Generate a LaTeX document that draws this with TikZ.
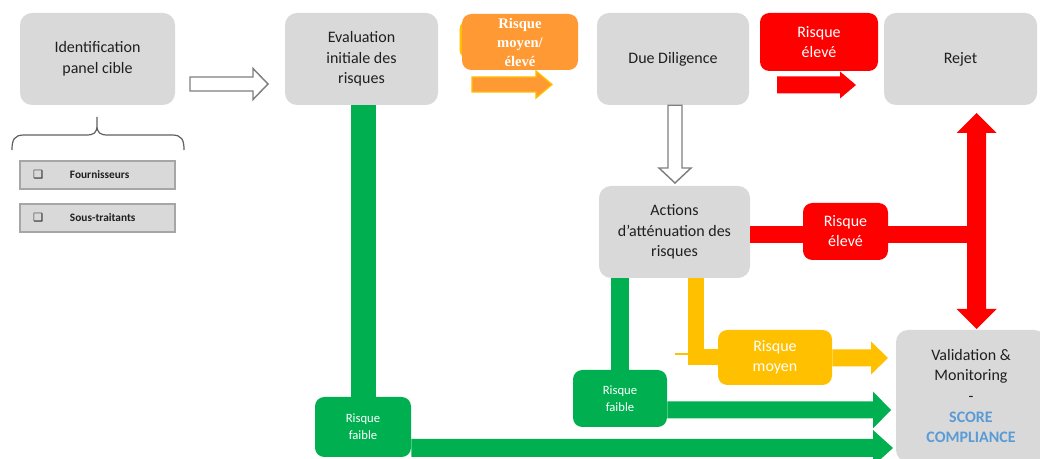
\documentclass[tikz,border=0pt]{standalone}
\usepackage{fontspec}
\setmainfont{Carlito}
\newfontfamily\timesf{Liberation Serif}
\newfontfamily\dejavu{DejaVu Sans}
\usetikzlibrary{calc}
\definecolor{boxgray}{HTML}{D9D9D9}
\definecolor{boxedge}{HTML}{A6A6A6}
\definecolor{gr}{HTML}{00B050}
\definecolor{yl}{HTML}{FFC000}
\definecolor{rd}{HTML}{FF0000}
\definecolor{org}{HTML}{FF9933}
\definecolor{bl}{HTML}{5B9BD5}
\definecolor{txt}{HTML}{1F1F1F}
\definecolor{outl}{HTML}{7F7F7F}
\definecolor{brc}{HTML}{606060}
% horizontal fat arrow: style, start, tip, body half width, head half width, head length (px)
\newcommand\fatR[6]{%
  \coordinate (fas) at (#2 |- #3);
  \coordinate (fat) at (#3);
  \filldraw[#1] ($(fas)+(0,-#4)$) -- ($(fat)+(-#6,-#4)$) -- ($(fat)+(-#6,-#5)$) -- (fat)
    -- ($(fat)+(-#6,#5)$) -- ($(fat)+(-#6,#4)$) -- ($(fas)+(0,#4)$) -- cycle;}
\newcommand\cbox{{\dejavu\bfseries\fontsize{8.5}{9}\selectfont ❑}}
\tikzset{
  gbox/.style={fill=boxgray, rounded corners=9pt, minimum width=114.75pt, minimum height=69pt,
    align=center, font=\fontsize{12}{15.5}\selectfont, text=txt, inner sep=0pt},
  lab/.style={rounded corners=7pt, align=center, text=white, inner sep=0pt,
    font=\fontsize{12}{15}\selectfont},
  sbox/.style={fill=boxgray, draw=boxedge, line width=1.1pt, minimum height=21pt,
    inner xsep=9.75pt, inner ysep=0pt, text width=96.75pt, align=left,
    font=\fontsize{8.5}{10}\selectfont\bfseries, text=txt},
  harr/.style={fill=white, draw=outl, line width=1.1pt},
  garr/.style={fill=gr, draw=none},
  yarr/.style={fill=yl, draw=none},
  rarr/.style={fill=rd, draw=none},
  oarr/.style={fill=org, draw=yl, line width=1pt},
  gline/.style={draw=gr},
  yline/.style={draw=yl, line width=12pt, line join=miter},
  rline/.style={draw=rd, line width=12.75pt},
}
\begin{document}
\begin{tikzpicture}[x=0.75pt,y=-0.75pt]
\useasboundingbox (0,0) rectangle (1040,459);
\fill[white] (0,0) rectangle (1040,459);

% main grey boxes
\node[gbox, minimum width=116.25pt] (id) at (97.5,59) {Identification\\panel cible};
\node[gbox] (ev) at (361.5,59) {Evaluation\\initiale des\\risques};
\node[gbox, minimum width=114pt] (dd) at (673,59) {Due Diligence};
\node[gbox] (rj) at (960.5,59) {Rejet};
\node[gbox, minimum width=113.25pt] (act) at (674.5,232) {Actions\\d’atténuation des\\risques};
\node[gbox, minimum width=112.5pt, minimum height=99pt, font=\fontsize{12}{15.4}\selectfont] (val) at (971,396)
  {Validation \&\\Monitoring\\-\\\textcolor{bl}{\bfseries SCORE}\\\textcolor{bl}{\bfseries COMPLIANCE}};

% brace and list
\draw[brc, line width=0.9pt] (12,150) .. controls (12,140) and (14,135) .. (24,135) -- (86,135)
  .. controls (94,135) and (97,133) .. (97,125) -- (97,117)
  (97,125) .. controls (97,133) and (100,135) .. (108,135) -- (172,135)
  .. controls (182,135) and (184,140) .. (184,150);
\node[sbox] (fo) at (97.5,175) {\makebox[27.75pt][l]{\cbox}Fournisseurs};
\node[sbox] (st) at (97.5,218) {\makebox[27.75pt][l]{\cbox}Sous-traitants};

% hollow arrows
\coordinate (s0) at (190,84);
\coordinate (t0) at (268,84);
\fatR{harr}{s0}{t0}{7}{15.5}{15}
\coordinate (dtop) at (dd.south -| 675,0);
\coordinate (dtip) at (675,183);
\filldraw[harr] ($(dtop)+(-7,0)$) -- ($(dtip)+(-7,-15)$) -- ($(dtip)+(-16,-15)$) -- (dtip)
  -- ($(dtip)+(16,-15)$) -- ($(dtip)+(7,-15)$) -- ($(dtop)+(7,0)$) -- cycle;

% top labels and arrows
\fill[yl, rounded corners=6pt] (459.5,21) rectangle (520,58);
\node[lab, fill=org, minimum width=87pt, minimum height=42pt,
  font=\timesf\bfseries\fontsize{11}{14.25}\selectfont] (om) at (520,42) {Risque\\moyen/\\élevé};
\coordinate (s4) at (472,84.5);
\coordinate (t4) at (552,84.5);
\fatR{oarr}{s4}{t4}{7.5}{13.5}{16}

\node[lab, fill=rd, minimum width=88.5pt, minimum height=43.5pt] (re1) at (819,42) {Risque\\élevé};
\coordinate (s5) at (777,85);
\coordinate (t5) at (856,85);
\fatR{rarr}{s5}{t5}{8.5}{13.5}{16}

% low-risk branches (green)
\node[lab, fill=gr, minimum width=72pt, minimum height=45pt, font=\fontsize{9.5}{12.75}\selectfont] (rf1) at (363,427) {Risque\\faible};
\node[lab, fill=gr, minimum width=70.5pt, minimum height=42.75pt, font=\fontsize{9.5}{12.75}\selectfont] (rf2) at (620,398.5) {Risque\\faible};
\draw[gline, line width=18.75pt] (rf1.north |- ev.south) -- (rf1.north);
\draw[gline, line width=13.5pt] (rf2.north |- act.south) -- (rf2.north);
\coordinate (t1) at (893,448);
\fatR{garr}{rf1.east}{t1}{9}{18}{20}
\coordinate (t2) at (891,410);
\fatR{garr}{rf2.east}{t2}{8.5}{18.5}{18}

% medium risk (yellow)
\node[lab, fill=yl, minimum width=85.5pt, minimum height=41.25pt] (ym) at (775,357.5) {Risque\\moyen};
\draw[yline] ($(act.south)+(21,0)$) |- (ym.west);
\draw[yl, line width=1pt] (675,354) -- (690,354);
\coordinate (t3) at (888,358);
\fatR{yarr}{ym.east}{t3}{8.5}{16.5}{17}

% high risk (red)
\node[lab, fill=rd, minimum width=63.75pt, minimum height=42.75pt] (re2) at (845.5,231.5) {Risque\\élevé};
\coordinate (j) at (976.5,234.5);
\draw[rline] (act.east |- j) -- (re2.west |- j);
\draw[rline] (re2.east |- j) -- (j);
\coordinate (dt) at (976.5,113);
\coordinate (db) at (976.5,329);
\fill[rd] (dt) -- ($(dt)+(20,20)$) -- ($(dt)+(9.5,20)$) -- ($(db)+(9.5,-20)$) -- ($(db)+(20,-20)$) -- (db)
  -- ($(db)+(-20,-20)$) -- ($(db)+(-9.5,-20)$) -- ($(dt)+(-9.5,20)$) -- ($(dt)+(-20,20)$) -- cycle;
\end{tikzpicture}
\end{document}
